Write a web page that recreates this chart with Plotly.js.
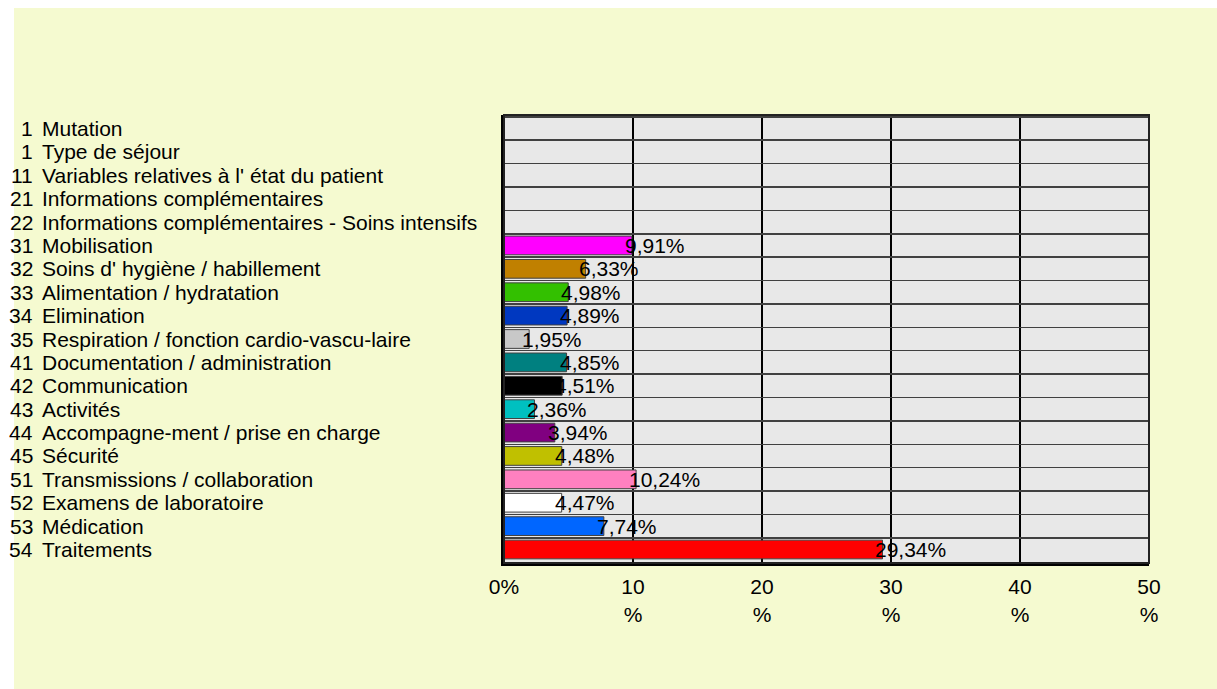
<!DOCTYPE html>
<html><head><meta charset="utf-8">
<script src="https://cdn.plot.ly/plotly-3.0.1.min.js"></script>
<style>html,body{margin:0;padding:0;background:#fff;} #chart{width:1217px;height:689px;}</style>
</head><body><div id="chart"></div>
<script>
// ---- data ----
const codes = ['1','1','11','21','22','31','32','33','34','35','41','42','43','44','45','51','52','53','54'];
const names = ['Mutation','Type de séjour',"Variables relatives à l' état du patient",'Informations complémentaires',
  'Informations complémentaires - Soins intensifs','Mobilisation',"Soins d' hygiène / habillement",
  'Alimentation / hydratation','Elimination','Respiration / fonction cardio-vascu-laire',
  'Documentation / administration','Communication','Activités','Accompagne-ment / prise en charge',
  'Sécurité','Transmissions / collaboration','Examens de laboratoire','Médication','Traitements'];
const values = [0,0,0,0,0,9.91,6.33,4.98,4.89,1.95,4.85,4.51,2.36,3.94,4.48,10.24,4.47,7.74,29.34];
const barColors = ['#cccccc','#cccccc','#cccccc','#cccccc','#cccccc','#ff00ff','#c08000','#33c000','#0038c0',
  '#c8c8c8','#008080','#000000','#00c0c0','#800080','#c0c000','#ff80c0','#ffffff','#0066ff','#ff0000'];
const xTickVals = [0,10,20,30,40,50];
const xTickText = ['0%','10<br>%','20<br>%','30<br>%','40<br>%','50<br>%'];

// ---- layout constants ----
const W = 1217, H = 689, ML = 504, MR = 68, MT = 115, MB = 126;
const PW = W - ML - MR, PH = H - MT - MB;
const FONT = 'Liberation Sans, Arial, sans-serif';
const FS = 21;
const px2x = p => (p - ML) / PW;

const cats = codes.map((c, i) => c + ' ' + names[i]);

const annotations = [];
cats.forEach((cat, i) => {
  annotations.push({xref:'paper', yref:'y', x:px2x(35), y:cat, text:codes[i], xanchor:'right', yanchor:'middle',
    showarrow:false, font:{family:FONT, size:FS, color:'#000'}});
  annotations.push({xref:'paper', yref:'y', x:px2x(40), y:cat, text:names[i], xanchor:'left', yanchor:'middle',
    showarrow:false, font:{family:FONT, size:FS, color:'#000'}});
  if (values[i] > 0) {
    annotations.push({xref:'x', yref:'y', x:values[i], y:cat, text:values[i].toFixed(2).replace('.', ',') + '%',
      xanchor:'left', yanchor:'middle', xshift:-9, showarrow:false, font:{family:FONT, size:FS, color:'#000'}});
  }
});

const trace = {
  type:'bar', orientation:'h', y:cats, x:values,
  marker:{color:barColors, line:{color:'#404040', width:1}},
  hoverinfo:'skip', cliponaxis:false
};

const layout = {
  width:W, height:H,
  margin:{l:ML, r:MR, t:MT, b:MB, pad:0},
  paper_bgcolor:'#f5fad0', plot_bgcolor:'#e8e8e8',
  showlegend:false, bargap:0.2,
  font:{family:FONT, size:FS, color:'#000'},
  xaxis:{range:[0,50], tickvals:xTickVals, ticktext:xTickText, showgrid:true, gridcolor:'#000', gridwidth:2,
    zeroline:false, showline:true, linecolor:'#000', linewidth:3, ticks:'', fixedrange:true, ticklabelstandoff:3,
    tickfont:{family:FONT, size:FS, color:'#000'}},
  yaxis:{type:'category', autorange:'reversed', tickson:'boundaries', showgrid:true, gridcolor:'#404040', gridwidth:1.5,
    showticklabels:false, ticks:'', zeroline:false, showline:true, linecolor:'#000', linewidth:3, fixedrange:true},
  annotations:annotations,
  shapes:[
    {type:'rect', xref:'paper', yref:'paper', x0:0, x1:1, y0:0, y1:1, line:{color:'#222', width:2}, layer:'above'},
    {type:'rect', xref:'paper', yref:'paper', x0:-ML/PW, x1:(14-ML)/PW, y0:-MB/PH, y1:1+MT/PH, line:{width:0}, fillcolor:'#ffffff', layer:'below'},
    {type:'rect', xref:'paper', yref:'paper', x0:-ML/PW, x1:1+MR/PW, y0:1+(MT-8)/PH, y1:1+MT/PH, line:{width:0}, fillcolor:'#ffffff', layer:'below'}
  ]
};

Plotly.newPlot('chart', [trace], layout, {displayModeBar:false, staticPlot:true});
</script>
</body></html>
